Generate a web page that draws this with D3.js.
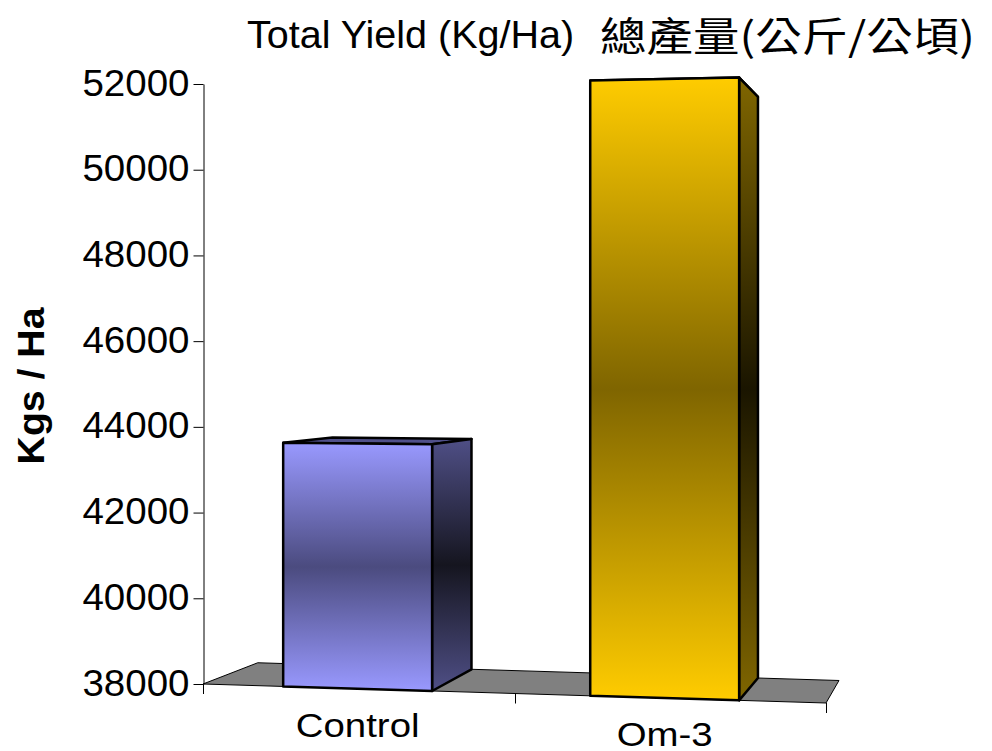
<!DOCTYPE html>
<html>
<head>
<meta charset="utf-8">
<script src="https://cdn.jsdelivr.net/npm/d3@7"></script>
<style>
  body { margin: 0; background: #fff; }
  text { font-family: "Liberation Sans", Arial, sans-serif; fill: #000; }
</style>
</head>
<body>
<div id="chart"></div>
<script>
// Data
const categories = ["Control", "Om-3"];
const yieldValues = [43650, 51900];
const yTicks = [38000, 40000, 42000, 44000, 46000, 48000, 50000, 52000];
const titleText = "Total Yield (Kg/Ha)";
const titleZh = "總產量(公斤/公頃)";
const yTitle = "Kgs / Ha";

// Bar colours: [edge, middle] of the centre-out gradient
const frontColors = [["#9999ff", "#4b4b7f"], ["#ffcc00", "#7f6500"]];
const sideColors = [["#4f4f86", "#15151f"], ["#806600", "#1a1500"]];
const topColors = ["#50508a", "#806600"];

const width = 992, height = 751;
const x0 = 203, x1 = 826;

const svg = d3.select("#chart").append("svg")
  .attr("width", width)
  .attr("height", height);

const yScale = d3.scaleLinear().domain([38000, 52000]).range([684, 84]);
const xScale = d3.scaleBand().domain(categories).range([x0, x1])
  .paddingInner(0.515).paddingOuter(0.272).align(0.48);

// Simple perspective: horizontal lines run to hVP, depth lines run to dVP
const hVP = [-11600, 324], dVP = [1020, 367], depth = 0.067;
const base = yScale.domain()[0];

function front(x, v) {
  const ya = yScale(v);
  return [x, ya + (x - x0) * (ya - hVP[1]) / (x0 - hVP[0])];
}
function back(p) {
  return [p[0] + depth * (dVP[0] - p[0]), p[1] + depth * (dVP[1] - p[1])];
}
const line = pts => "M" + pts.map(p => p.join(",")).join("L") + "Z";

// Gradients
const defs = svg.append("defs");
function gradient(id, c) {
  const g = defs.append("linearGradient").attr("id", id)
    .attr("x1", 0).attr("y1", 0).attr("x2", 0).attr("y2", 1);
  g.append("stop").attr("offset", "0%").attr("stop-color", c[0]);
  g.append("stop").attr("offset", "50%").attr("stop-color", c[1]);
  g.append("stop").attr("offset", "100%").attr("stop-color", c[0]);
}
categories.forEach((c, i) => {
  gradient("front" + i, frontColors[i]);
  gradient("side" + i, sideColors[i]);
});

// Floor
const fl = front(x0, base), fr = front(x1, base);
svg.append("path")
  .attr("d", line([fl, fr, back(fr), back(fl)]))
  .attr("fill", "#808080")
  .attr("stroke", "#000")
  .attr("stroke-width", 1);

// Y axis
const yAxis = d3.axisLeft(yScale).tickValues(yTicks).tickSize(10).tickSizeOuter(0)
  .tickFormat(d3.format("d"));
const ay = svg.append("g").attr("transform", `translate(${x0 + 0.5},0)`).call(yAxis);
ay.select(".domain").attr("stroke", "#000");
ay.selectAll(".tick line").attr("stroke", "#000");
ay.selectAll(".tick text")
  .attr("x", null).attr("dy", null)
  .attr("transform", "translate(-14,11) scale(1.07,1)")
  .style("font-size", "36px")
  .style("font-family", "'Liberation Sans', Arial, sans-serif")
  .attr("fill", "#000");

// X axis ticks along the floor front edge
d3.range(categories.length + 1).forEach(i => {
  const x = x0 + i * (x1 - x0) / categories.length;
  const p = front(x, base);
  svg.append("line")
    .attr("x1", Math.round(x) + 0.5).attr("x2", Math.round(x) + 0.5)
    .attr("y1", p[1]).attr("y2", p[1] + 10)
    .attr("stroke", "#000").attr("stroke-width", 1);
});

// Bars
const bw = xScale.bandwidth();
categories.forEach((c, i) => {
  const v = yieldValues[i];
  const xa = xScale(c), xb = xa + bw;
  const ftl = front(xa, v), ftr = front(xb, v);
  const fbl = front(xa, base), fbr = front(xb, base);
  const g = svg.append("g")
    .attr("stroke", "#000")
    .attr("stroke-width", 2.5)
    .attr("stroke-linejoin", "round");
  g.append("path").attr("d", line([ftl, ftr, back(ftr), back(ftl)])).attr("fill", topColors[i]);
  g.append("path").attr("d", line([ftr, back(ftr), back(fbr), fbr])).attr("fill", `url(#side${i})`);
  g.append("path").attr("d", line([ftl, ftr, fbr, fbl])).attr("fill", `url(#front${i})`);

  const cx = xa + bw / 2;
  svg.append("text")
    .attr("transform", `translate(${cx},${front(cx, base)[1] + 48}) scale(1.13,1)`)
    .attr("text-anchor", "middle")
    .style("font-size", "34px")
    .text(c);
});

// Titles
svg.append("text")
  .attr("transform", "translate(247,48) scale(1.04,1)")
  .style("font-size", "38px")
  .text(titleText);

svg.append("text")
  .attr("x", 600).attr("y", 51)
  .attr("textLength", 375).attr("lengthAdjust", "spacingAndGlyphs")
  .style("font-family", "'Noto Sans CJK TC', sans-serif")
  .style("font-size", "40px")
  .text(titleZh);

svg.append("text")
  .attr("transform", "translate(44,386) rotate(-90) scale(1.06,1)")
  .attr("text-anchor", "middle")
  .style("font-size", "37px")
  .style("font-weight", "bold")
  .text(yTitle);
</script>
</body>
</html>
